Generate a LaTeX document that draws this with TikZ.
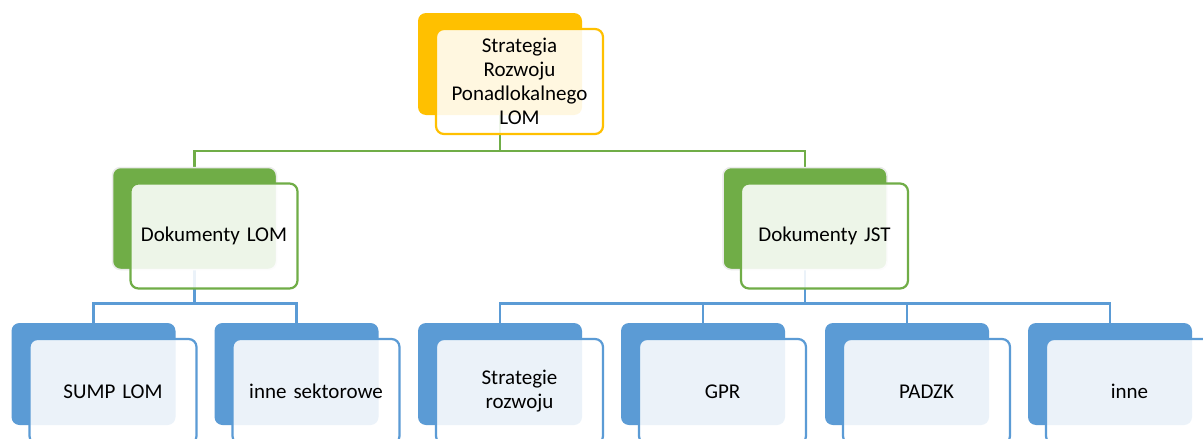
\documentclass[tikz,border=0pt]{standalone}
\usepackage{fontspec}
\setmainfont{Carlito}
\definecolor{cgold}{HTML}{FFC000}
\definecolor{cgreen}{HTML}{70AD47}
\definecolor{cblue}{HTML}{5B9BD5}
\begin{document}
\begin{tikzpicture}[x=1pt,y=-1pt,
  back/.style={rounded corners=8pt, minimum width=164pt, minimum height=102pt, inner sep=0pt},
  front/.style={rounded corners=8pt, minimum width=167pt, minimum height=105pt, inner sep=0pt,
    fill=white, fill opacity=0.88, text opacity=1, line width=2.2pt, align=center,
    text width=150pt, font=\fontsize{21}{24}\selectfont},
  goldback/.style={back, fill=cgold},
  goldfront/.style={front, draw=cgold},
  greenback/.style={back, fill=cgreen, draw=black!8, line width=1.5pt},
  greenfront/.style={front, draw=cgreen},
  blueback/.style={back, fill=cblue},
  bluefront/.style={front, draw=cblue},
  gline/.style={draw=cgreen, line width=2.2pt},
  bline/.style={draw=cblue, line width=2.2pt}]
\clip (0,0) rectangle (1203,439);
\fill[white] (0,0) rectangle (1203,439);
% connector anchors (back boxes) placed first as coordinates
\coordinate (p0) at (500,64);
\coordinate (p1) at (194.5,218.5);
\coordinate (p2) at (805,218.5);
% connectors
\draw[gline] (500,115) coordinate (s0) -- ++(0,36) -| (194.5,167.5) coordinate (t1);
\draw[gline] (s0) -- ++(0,36) -| (805,167.5) coordinate (t2);
\foreach \x in {93.5,296.5}{
  \draw[bline] (194.5,269.5) -- ++(0,34) -| (\x,323);
}
\foreach \x in {500,703,907,1110}{
  \draw[bline] (805,269.5) -- ++(0,34) -| (\x,323);
}
% top
\node[goldback] (b0) at (p0) {};
\node[goldfront] (f0) at (519.5,81.5) {Strategia\\Rozwoju\\Ponadlokalnego\\LOM};
% level 2
\node[greenback] (b1) at (p1) {};
\node[greenfront] (f1) at (214,236) {Dokumenty LOM};
\node[greenback] (b2) at (p2) {};
\node[greenfront] (f2) at (824.5,236) {Dokumenty JST};
% level 3
\node[blueback] (b3) at (93.5,374) {};
\node[bluefront] (f3) at (113,391.5) {SUMP LOM};
\node[blueback] (b4) at (296.5,374) {};
\node[bluefront] (f4) at (316,391.5) {inne sektorowe};
\node[blueback] (b5) at (500,374) {};
\node[bluefront] (f5) at (519.5,391.5) {Strategie\\rozwoju};
\node[blueback] (b6) at (703,374) {};
\node[bluefront] (f6) at (722.5,391.5) {GPR};
\node[blueback] (b7) at (907,374) {};
\node[bluefront] (f7) at (926.5,391.5) {PADZK};
\node[blueback] (b8) at (1110,374) {};
\node[bluefront] (f8) at (1129.5,391.5) {inne};
\end{tikzpicture}
\end{document}
